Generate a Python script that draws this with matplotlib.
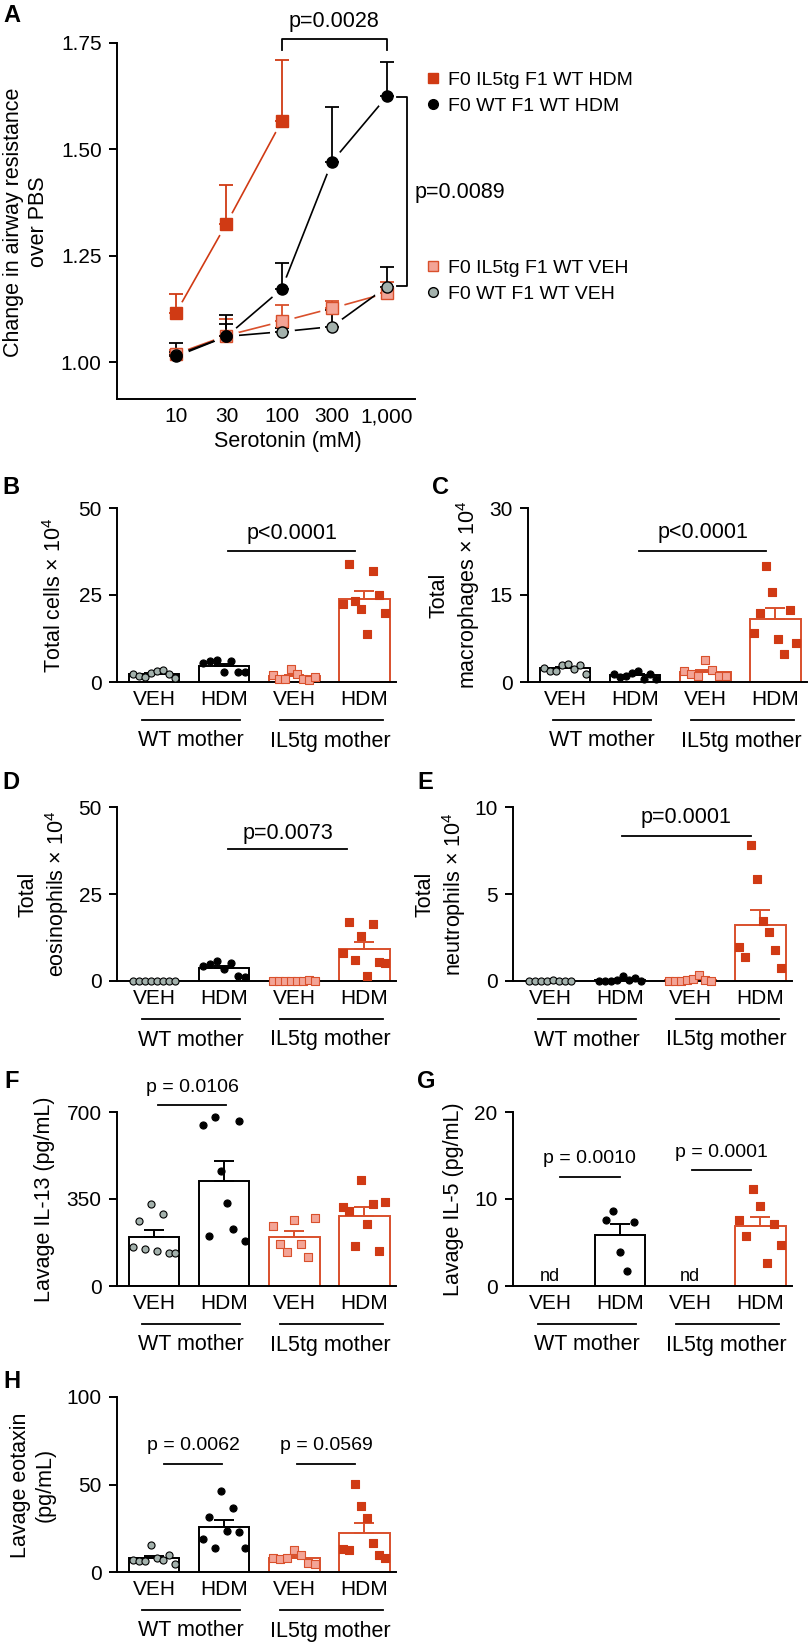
import numpy as np
import matplotlib
matplotlib.use('Agg')
import matplotlib.pyplot as plt
from matplotlib.lines import Line2D
from matplotlib.ticker import NullLocator

plt.rcParams['font.family'] = ['Liberation Sans', 'DejaVu Sans']
plt.rcParams['mathtext.fontset'] = 'custom'
plt.rcParams['mathtext.rm'] = 'Liberation Sans'
plt.rcParams['mathtext.default'] = 'rm'

# ---- panel A data (mean and upper SEM)
dose = [10, 30, 100, 300, 1000]
dose_labels = ['10', '30', '100', '300', '1,000']
il5_hdm_mean = [1.117, 1.326, 1.566]
il5_hdm_err = [0.043, 0.090, 0.143]
wt_hdm_mean = [1.014, 1.061, 1.172, 1.471, 1.625]
wt_hdm_err = [0.031, 0.050, 0.062, 0.128, 0.080]
il5_veh_mean = [1.020, 1.063, 1.096, 1.127, 1.163]
il5_veh_err = [0.010, 0.040, 0.038, 0.018, 0.025]
wt_veh_mean = [1.017, 1.061, 1.072, 1.084, 1.178]
wt_veh_err = [0.008, 0.030, 0.008, 0.040, 0.046]

# ---- bar panels: individual animals (WT VEH, WT HDM, IL5tg VEH, IL5tg HDM)
groups = ['VEH', 'HDM', 'VEH', 'HDM']

cells = [[2.4, 1.6, 1.4, 2.7, 3.1, 3.4, 2.2, 1.2],
         [5.6, 6.1, 6.25, 2.9, 6.1, 2.8, 2.9],
         [1.9, 1.0, 1.0, 3.8, 2.2, 1.0, 0.7, 1.3],
         [22.4, 33.8, 23.3, 20.9, 13.75, 31.8, 25.0, 19.9]]
macs = [[2.4, 1.84, 1.84, 2.87, 3.16, 2.3, 3.0, 1.44],
        [1.32, 0.86, 1.03, 1.55, 1.9, 0.57, 1.44, 0.46],
        [1.84, 1.32, 0.98, 3.85, 2.0, 1.03, 0.98],
        [8.5, 11.95, 20.0, 15.6, 7.47, 4.77, 12.5, 6.72]]
eos = [[0, 0, 0, 0, 0, 0, 0, 0],
       [4.3, 4.8, 5.75, 3.5, 5.3, 1.44, 1.15],
       [0.1, 0.1, 0.1, 0.1, 0.1, 0.1, 0.3, 0.1],
       [8.05, 17.05, 5.9, 12.9, 1.44, 16.5, 5.5, 5.3]]
neu = [[0, 0, 0, 0.02, 0.08, 0.02, 0, 0],
       [0, 0, 0, 0.05, 0.3, 0.03, 0.15, 0.02],
       [0, 0, 0.02, 0.05, 0.12, 0.35, 0.03, 0],
       [1.95, 1.38, 7.82, 5.84, 3.45, 2.82, 1.76, 0.77]]
il13 = [[155, 261, 147, 328, 142, 289, 134, 131],
        [649, 201, 679, 462, 332, 229, 662, 181],
        [242, 169, 138, 265, 169, 115, 272],
        [318, 301, 161, 428, 249, 328, 142, 339]]
il5 = [[],
       [7.57, 8.64, 3.86, 1.72, 7.38],
       [],
       [7.57, 5.74, 11.13, 9.22, 2.6, 7.11, 4.7]]
eotaxin = [[6.7, 6.3, 6.1, 15.7, 8.0, 6.7, 9.6, 4.8],
           [18.7, 31.2, 13.8, 46.5, 23.5, 36.3, 22.9, 13.8],
           [8.2, 7.6, 8.0, 12.4, 9.6, 5.4, 4.8],
           [13.4, 12.4, 50.1, 37.9, 30.6, 16.3, 9.6, 8.0]]

RED = '#d03a14'
RED_EDGE = '#d9502c'
PINK = '#f3a496'
GRAY = '#a3b1ac'

W, H = 808, 1643
fig = plt.figure(figsize=(W / 100, H / 100), dpi=100)


def add_ax(l, t, r, b):
    return fig.add_axes([l / W, 1 - b / H, (r - l) / W, (b - t) / H])


def ftext(x, y, s, **kw):
    fig.text(x / W, 1 - y / H, s, **kw)


def style(ax, size=15):
    for s in ['top', 'right']:
        ax.spines[s].set_visible(False)
    for s in ['left', 'bottom']:
        ax.spines[s].set_linewidth(1.4)
    ax.tick_params(axis='y', length=6, width=1.4, labelsize=size, pad=5)
    ax.tick_params(axis='x', length=0, labelsize=size, pad=6)


# ================= Panel A
ax = add_ax(117, 43, 415, 399)
style(ax, 15)
ax.set_xscale('log')
ax.set_xlim(2.75, 1840)
ax.set_ylim(0.914, 1.75)
ax.set_xticks(dose)
ax.set_xticklabels(dose_labels)
ax.xaxis.set_minor_locator(NullLocator())
ax.set_yticks([1.0, 1.25, 1.5, 1.75])
ax.set_yticklabels(['1.00', '1.25', '1.50', '1.75'])

# drawing order: VEH first, HDM on top
series = [
    (dose, il5_veh_mean, il5_veh_err, 's', PINK, RED_EDGE, RED_EDGE),
    (dose, wt_veh_mean, wt_veh_err, 'o', GRAY, 'black', 'black'),
    (dose[:3], il5_hdm_mean, il5_hdm_err, 's', RED, RED, RED),
    (dose, wt_hdm_mean, wt_hdm_err, 'o', 'black', 'black', 'black'),
]
z = 4
for x, m, e, mk, fc, ec, lc in series:
    ax.plot(x, m, color=lc, lw=1.2, zorder=1)
    # white halo so that lines stop short of the symbols
    ax.plot(x, m, ls='none', marker='o', ms=18, mfc='white', mec='none',
            zorder=2)
    ax.errorbar(x, m, yerr=[[0] * len(m), e], fmt='none', ecolor=lc,
                elinewidth=1.3, capsize=5, capthick=1.3, zorder=3)
for x, m, e, mk, fc, ec, lc in series:
    ax.plot(x, m, ls='none', marker=mk, ms=8, mfc=fc, mec=ec, mew=1.0,
            zorder=z)
    z += 1

ax.plot([100, 100, 1000, 1000], [1.734, 1.759, 1.759, 1.734], color='k',
        lw=1.3, clip_on=False)
ax.text(316, 1.80, 'p=0.0028', ha='center', va='center', fontsize=15.5)
ax.plot([1245, 1549, 1549, 1245], [1.624, 1.624, 1.179, 1.179], color='k',
        lw=1.3, clip_on=False)
ax.text(1842, 1.40, 'p=0.0089', ha='left', va='center', fontsize=15.5)

h1 = [Line2D([], [], ls='none', marker='s', ms=7, mfc=RED, mec=RED),
      Line2D([], [], ls='none', marker='o', ms=7, mfc='k', mec='k')]
h2 = [Line2D([], [], ls='none', marker='s', ms=7, mfc=PINK, mec=RED_EDGE),
      Line2D([], [], ls='none', marker='o', ms=7, mfc=GRAY, mec='k')]
leg_kw = dict(loc='upper left', bbox_transform=fig.transFigure, frameon=False,
              borderpad=0, borderaxespad=0, handlelength=0.8,
              handletextpad=0.4, labelspacing=0.45, fontsize=14)
l1 = ax.legend(h1, ['F0 IL5tg F1 WT HDM', 'F0 WT F1 WT HDM'],
               bbox_to_anchor=(425 / W, 1 - 71 / H), **leg_kw)
ax.add_artist(l1)
ax.legend(h2, ['F0 IL5tg F1 WT VEH', 'F0 WT F1 WT VEH'],
          bbox_to_anchor=(425 / W, 1 - 259 / H), **leg_kw)

ftext(288, 442, 'Serotonin (mM)', ha='center', va='center', fontsize=15.5)
ftext(26, 222, 'Change in airway resistance\nover PBS', rotation=90,
      ha='center', va='center', fontsize=15.5, linespacing=1.25)


# ================= bar panels
kinds = [('o', GRAY, 'k', 'k'), ('o', 'k', 'k', 'k'),
         ('s', PINK, RED_EDGE, RED_EDGE), ('s', RED, RED, RED_EDGE)]


def bar_panel(box, data, ymax, yticks, nd=False):
    ax = add_ax(*box)
    style(ax)
    ax.set_xlim(-0.53, 3.45)
    ax.set_ylim(0, ymax)
    ax.set_yticks(yticks)
    ax.set_xticks(range(4))
    ax.set_xticklabels(groups)
    for i, vals in enumerate(data):
        mk, fc, ec, bc = kinds[i]
        if len(vals) == 0:
            if nd:
                ax.text(i, ymax * 0.052, 'nd', ha='center', va='center',
                        fontsize=13)
            continue
        v = np.array(vals, dtype=float)
        mean = v.mean()
        sem = v.std(ddof=1) / np.sqrt(len(v))
        ax.bar(i, mean, width=0.72, facecolor='white', edgecolor=bc,
               linewidth=1.4, zorder=1)
        ax.errorbar(i, mean, yerr=[[0], [sem]], fmt='none', ecolor=bc,
                    elinewidth=1.4, capsize=7, capthick=1.4, zorder=2)
        w = min(0.3, 0.05 * (len(v) - 1))
        ax.scatter(i + np.linspace(-w, w, len(v)), v, marker=mk, s=26,
                   facecolor=fc, edgecolor=ec, linewidth=0.8, zorder=4,
                   clip_on=False)
    tr = ax.get_xaxis_transform()
    hpx = box[3] - box[1]
    yl = -38 / hpx
    ax.plot([-0.18, 1.22], [yl, yl], transform=tr, color='k', lw=1.3,
            clip_on=False)
    ax.plot([1.8, 3.26], [yl, yl], transform=tr, color='k', lw=1.3,
            clip_on=False)
    for xc, s in [(0.53, 'WT mother'), (2.52, 'IL5tg mother')]:
        ax.annotate(s, xy=(xc, 0), xycoords=tr, xytext=(0, -59 * 0.72),
                    textcoords='offset points', ha='center', va='center',
                    fontsize=15.5)
    return ax


def sig(ax, x0, x1, y, ty, label, size=15.5):
    ax.plot([x0, x1], [y, y], color='k', lw=1.3, clip_on=False)
    ax.text((x0 + x1) / 2, ty, label, ha='center', va='center', fontsize=size)


axB = bar_panel((117, 508, 396, 682), cells, 50, [0, 25, 50])
sig(axB, 1.06, 2.86, 37.6, 42.8, 'p<0.0001')
axC = bar_panel((528, 508, 807, 682), macs, 30, [0, 15, 30])
sig(axC, 1.06, 2.87, 22.6, 25.7, 'p<0.0001')
axD = bar_panel((117, 807, 396, 981), eos, 50, [0, 25, 50])
sig(axD, 1.06, 2.75, 37.9, 42.5, 'p=0.0073')
axE = bar_panel((513, 807, 792, 981), neu, 10, [0, 5, 10])
sig(axE, 1.03, 2.86, 8.33, 9.37, 'p=0.0001')
axF = bar_panel((117, 1112, 396, 1286), il13, 700, [0, 350, 700])
sig(axF, 0.06, 1.03, 728, 800, 'p = 0.0106', 14)
axG = bar_panel((513, 1112, 792, 1286), il5, 20, [0, 10, 20], nd=True)
sig(axG, 0.14, 0.99, 12.5, 14.6, 'p = 0.0010', 14)
sig(axG, 2.03, 2.87, 13.3, 15.4, 'p = 0.0001', 14)
axH = bar_panel((117, 1397, 396, 1572), eotaxin, 100, [0, 50, 100])
sig(axH, 0.14, 0.97, 61.7, 72, 'p = 0.0062', 14)
sig(axH, 2.04, 2.86, 61.7, 72, 'p = 0.0569', 14)

# y labels
lab = dict(rotation=90, ha='center', va='center', fontsize=15.5,
           linespacing=1.2)
ftext(55, 595, 'Total cells × 10$^{4}$', **lab)
ftext(455, 595, 'Total\nmacrophages × 10$^{4}$', **lab)
ftext(44, 894, 'Total\neosinophils × 10$^{4}$', **lab)
ftext(441, 894, 'Total\nneutrophils × 10$^{4}$', **lab)
ftext(45, 1199, 'Lavage IL-13 (pg/mL)', **lab)
ftext(453, 1199, 'Lavage IL-5 (pg/mL)', **lab)
ftext(33, 1485, 'Lavage eotaxin\n(pg/mL)', **lab)

# panel letters
for x, y, s in [(3, 15, 'A'), (2, 487, 'B'), (432, 487, 'C'),
                (2, 782, 'D'), (417, 782, 'E'), (4, 1081, 'F'),
                (417, 1081, 'G'), (3, 1381, 'H')]:
    ftext(x, y, s, ha='left', va='center', fontsize=17, fontweight='bold')

fig.savefig('out.png', dpi=100)
